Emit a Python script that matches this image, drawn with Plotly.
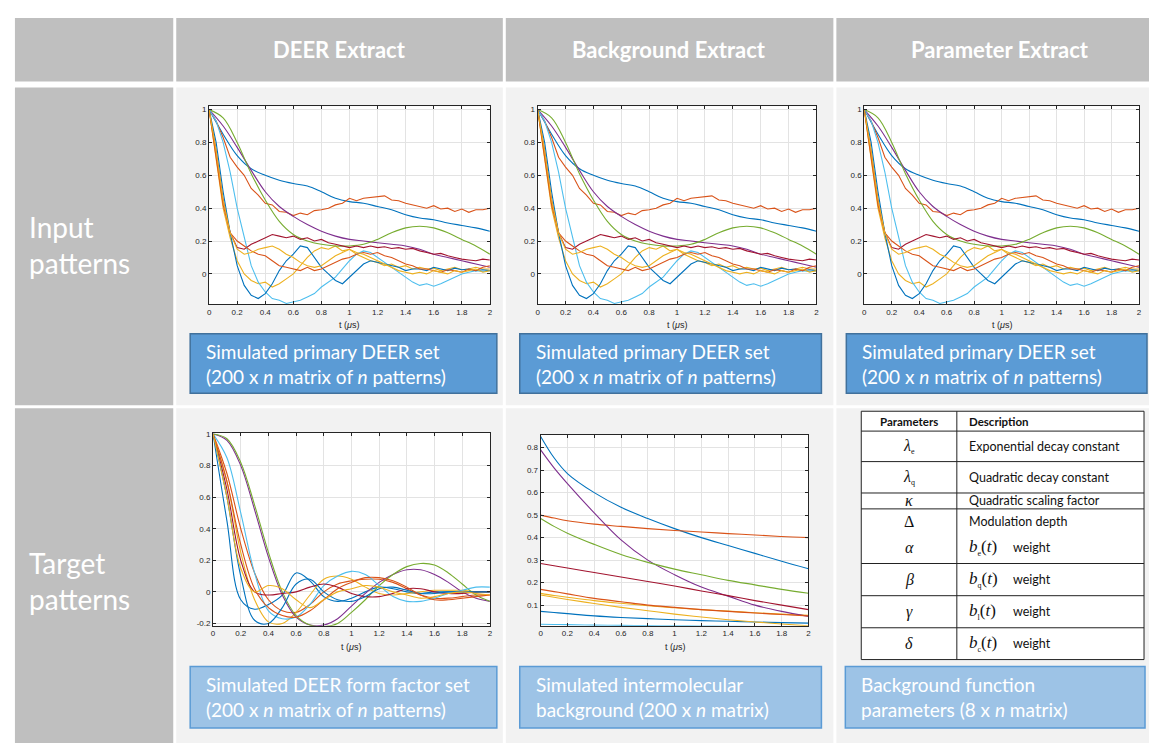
import numpy as np
import plotly.graph_objects as go

W, H = 1152, 745
FONT = "Lato"

# ---------------- data ----------------
t_smooth = [round(0.1 * i, 2) for i in range(21)]
t_noisy = [round(0.05 * i, 2) for i in range(41)]
x_ticks = [0, 0.2, 0.4, 0.6, 0.8, 1, 1.2, 1.4, 1.6, 1.8, 2]
x_tick_labels = ["0", "0.2", "0.4", "0.6", "0.8", "1", "1.2", "1.4", "1.6", "1.8", "2"]

# Input (primary DEER) patterns -- smooth ones on 0.1 grid
in_blue_smooth = [1.0, 0.85, 0.72, 0.64, 0.6, 0.57, 0.55, 0.535, 0.5, 0.46, 0.44, 0.43, 0.41, 0.39,
                  0.36, 0.34, 0.33, 0.31, 0.295, 0.28, 0.26]
in_purple = [1.0, 0.9, 0.77, 0.63, 0.5, 0.41, 0.35, 0.3, 0.26, 0.23, 0.21, 0.2, 0.19, 0.18, 0.17,
             0.15, 0.12, 0.1, 0.08, 0.06, 0.04]
in_green = [1.0, 0.95, 0.8, 0.61, 0.45, 0.32, 0.24, 0.2, 0.18, 0.17, 0.17, 0.18, 0.21, 0.25, 0.28,
            0.29, 0.28, 0.25, 0.21, 0.17, 0.12]
# noisy ones on 0.05 grid
in_orange_high = [1.0, 0.93, 0.83, 0.71, 0.65, 0.6, 0.52, 0.48, 0.43, 0.42, 0.38, 0.375, 0.355, 0.37,
                  0.36, 0.385, 0.39, 0.4, 0.42, 0.43, 0.46, 0.445, 0.46, 0.465, 0.47, 0.475, 0.45,
                  0.445, 0.43, 0.42, 0.41, 0.4, 0.415, 0.395, 0.4, 0.38, 0.395, 0.375, 0.39, 0.39, 0.4]
in_yellow_a = [1.0, 0.7, 0.4, 0.22, 0.08, 0.0, -0.04, -0.06, -0.05, -0.08, -0.06, -0.03, 0.0, 0.05,
               0.1, 0.14, 0.16, 0.15, 0.17, 0.14, 0.15, 0.12, 0.1, 0.08, 0.07, 0.05, 0.06, 0.04, 0.05,
               0.03, 0.04, 0.03, 0.035, 0.02, 0.03, 0.04, 0.025, 0.03, 0.04, 0.03, 0.03]
in_lightblue = [1.0, 0.93, 0.8, 0.62, 0.4, 0.22, 0.05, -0.05, -0.11, -0.15, -0.16, -0.18, -0.17,
                -0.16, -0.14, -0.12, -0.08, -0.05, -0.02, 0.03, 0.08, 0.12, 0.14, 0.13, 0.1, 0.07,
                0.04, 0.01, -0.02, -0.05, -0.07, -0.06, -0.075, -0.06, -0.04, -0.02, 0.0, 0.01, 0.02,
                0.015, 0.02]
in_darkred = [1.0, 0.75, 0.45, 0.25, 0.16, 0.15, 0.18, 0.2, 0.22, 0.24, 0.23, 0.22, 0.23, 0.21, 0.22,
              0.2, 0.21, 0.19, 0.18, 0.17, 0.16, 0.17, 0.16, 0.17, 0.16, 0.165, 0.155, 0.16, 0.15,
              0.155, 0.14, 0.13, 0.12, 0.125, 0.11, 0.1, 0.09, 0.085, 0.08, 0.09, 0.085]
in_blue_noisy = [1.0, 0.8, 0.5, 0.25, 0.05, -0.07, -0.13, -0.15, -0.12, -0.06, 0.02, 0.08, 0.12,
                 0.17, 0.16, 0.1, 0.04, 0.0, -0.04, -0.06, -0.02, 0.02, 0.06, 0.08, 0.07, 0.06, 0.05,
                 0.04, 0.02, 0.03, 0.03, 0.02, 0.04, 0.03, 0.02, 0.035, 0.025, 0.03, 0.02, 0.025, 0.02]
in_orange_low = [1.0, 0.72, 0.42, 0.25, 0.2, 0.17, 0.14, 0.12, 0.11, 0.08, 0.05, 0.04, 0.03, 0.02,
                 0.04, 0.02, 0.03, 0.05, 0.07, 0.09, 0.1, 0.12, 0.13, 0.12, 0.13, 0.11, 0.1, 0.08,
                 0.06, 0.05, 0.03, 0.03, 0.02, 0.01, 0.025, 0.02, 0.01, 0.03, 0.02, 0.04, 0.05]
in_yellow_b = [1.0, 0.75, 0.45, 0.25, 0.15, 0.12, 0.13, 0.15, 0.16, 0.17, 0.15, 0.12, 0.1, 0.07, 0.05,
               0.04, 0.05, 0.08, 0.11, 0.13, 0.15, 0.13, 0.12, 0.1, 0.08, 0.06, 0.04, 0.02, 0.01, 0.0,
               0.01, 0.0, 0.02, 0.01, 0.0, 0.02, 0.01, 0.02, 0.03, 0.01, 0.02]

# Target: DEER form factors (0.1 grid)
ff_blue_a = [1.0, 0.45, -0.05, -0.11, -0.08, -0.02, 0.12, 0.07, -0.03, -0.06, -0.04, 0.0, 0.03, 0.02,
             0.0, -0.01, 0.0, 0.0, 0.0, 0.0, 0.0]
ff_orange_a = [1.0, 0.75, 0.4, 0.12, -0.05, -0.12, -0.13, -0.08, 0.0, 0.05, 0.07, 0.08, 0.08, 0.06,
               0.02, -0.02, -0.04, -0.04, -0.03, -0.02, -0.02]
ff_yellow_a = [1.0, 0.7, 0.25, -0.05, -0.19, -0.2, -0.13, -0.02, 0.08, 0.1, 0.08, 0.03, -0.01, -0.02,
               -0.01, 0.0, 0.01, 0.01, 0.01, 0.0, 0.0]
ff_purple = [1.0, 0.96, 0.8, 0.52, 0.22, -0.02, -0.16, -0.21, -0.21, -0.17, -0.09, -0.01, 0.06, 0.11,
             0.14, 0.14, 0.11, 0.06, 0.0, -0.04, -0.06]
ff_green = [1.0, 0.97, 0.82, 0.55, 0.25, 0.0, -0.15, -0.21, -0.22, -0.2, -0.13, -0.05, 0.04, 0.11,
            0.16, 0.18, 0.17, 0.12, 0.05, -0.02, -0.06]
ff_lightblue = [1.0, 0.85, 0.5, 0.12, -0.12, -0.17, -0.16, -0.08, 0.04, 0.1, 0.13, 0.11, 0.04, -0.03,
                -0.06, -0.06, -0.04, -0.01, 0.01, 0.03, 0.03]
ff_darkred = [1.0, 0.65, 0.2, 0.0, -0.02, -0.01, 0.0, 0.03, 0.05, 0.03, -0.01, -0.03, -0.03, -0.01,
              0.02, 0.02, 0.0, -0.01, -0.01, 0.0, 0.0]
ff_blue_b = [1.0, 0.6, 0.1, -0.18, -0.2, -0.1, 0.05, 0.08, 0.0, -0.05, -0.06, -0.03, 0.02, 0.03, 0.01,
             -0.01, -0.01, 0.0, 0.0, 0.0, 0.0]
ff_orange_b = [1.0, 0.7, 0.3, 0.02, -0.1, -0.15, -0.16, -0.12, -0.05, 0.02, 0.06, 0.09, 0.09, 0.07,
               0.03, -0.02, -0.05, -0.05, -0.04, -0.03, -0.02]
ff_yellow_b = [1.0, 0.6, 0.15, 0.0, 0.04, 0.02, -0.05, -0.1, -0.05, 0.0, 0.02, 0.04, 0.03, 0.0, -0.02,
               -0.04, -0.03, -0.01, 0.0, -0.01, -0.02]

# Target: intermolecular backgrounds
t_bg = [0, 0.1, 0.2, 0.4, 0.6, 0.8, 1.0, 1.2, 1.4, 1.6, 1.8, 2.0]
bg_blue = [0.85, 0.755, 0.685, 0.6, 0.535, 0.485, 0.44, 0.4, 0.365, 0.33, 0.295, 0.262]
bg_orange = [0.5, 0.487, 0.475, 0.46, 0.45, 0.44, 0.432, 0.425, 0.418, 0.412, 0.405, 0.4]
bg_yellow_a = [0.152, 0.143, 0.135, 0.12, 0.108, 0.097, 0.088, 0.08, 0.073, 0.066, 0.06, 0.055]
bg_purple = [0.79, 0.71, 0.64, 0.51, 0.39, 0.3, 0.235, 0.18, 0.14, 0.1, 0.072, 0.05]
bg_green = [0.485, 0.45, 0.42, 0.37, 0.325, 0.29, 0.26, 0.235, 0.21, 0.19, 0.17, 0.153]
bg_lightblue = [0.015, 0.014, 0.013, 0.011, 0.01, 0.009, 0.008, 0.007, 0.006, 0.005, 0.005, 0.004]
bg_darkred = [0.285, 0.275, 0.265, 0.245, 0.225, 0.205, 0.185, 0.163, 0.142, 0.12, 0.1, 0.08]
bg_blue_b = [0.072, 0.067, 0.062, 0.052, 0.045, 0.04, 0.035, 0.031, 0.028, 0.025, 0.022, 0.02]
bg_orange_b = [0.17, 0.16, 0.15, 0.13, 0.115, 0.1, 0.09, 0.08, 0.072, 0.065, 0.058, 0.052]
bg_yellow_b = [0.145, 0.135, 0.125, 0.107, 0.09, 0.075, 0.06, 0.047, 0.035, 0.025, 0.016, 0.008]

# Text
col_headers = ["DEER Extract", "Background Extract", "Parameter Extract"]
row_labels = ["Input<br>patterns", "Target<br>patterns"]
input_caption = "Simulated primary DEER set<br>(200 x <i>n</i> matrix of <i>n</i> patterns)"
target_captions = ["Simulated DEER form factor set<br>(200 x <i>n</i> matrix of <i>n</i> patterns)",
                   "Simulated intermolecular<br>background (200 x <i>n</i> matrix)",
                   "Background function<br>parameters (8 x <i>n</i> matrix)"]
SUB = '<sub><span style="font-size:8px">{}</span></sub>'
param_symbols = ["<i>λ</i>" + SUB.format("e"), "<i>λ</i>" + SUB.format("q"), "<i>κ</i>", "Δ",
                 "<i>α</i>", "<i>β</i>", "<i>γ</i>", "<i>δ</i>"]
param_desc = ["Exponential decay constant", "Quadratic decay constant", "Quadratic scaling factor",
              "Modulation depth"]
weight_funcs = ["<i>b</i>" + SUB.format("e") + "(<i>t</i>)", "<i>b</i>" + SUB.format("q") + "(<i>t</i>)",
                "<i>b</i>" + SUB.format("l") + "(<i>t</i>)", "<i>b</i>" + SUB.format("c") + "(<i>t</i>)"]

C = ['#0072BD', '#D95319', '#EDB120', '#7E2F8E', '#77AC30', '#4DBEEE', '#A2142F']


def px(x):
    return x / W


def py(y):
    return 1 - y / H


fig = go.Figure()
shapes = []
ann = []

# ---------- table cells ----------
GRAY = "#BFBFBF"
LIGHT = "#F2F2F2"
cols = [(13, 172), (175, 503), (506, 835), (838, 1152)]
rows = [(15, 79), (85, 405), (408, 745)]
for ri, (y0, y1) in enumerate(rows):
    for ci, (x0, x1) in enumerate(cols):
        fill = GRAY if (ri == 0 or ci == 0) else LIGHT
        shapes.append(dict(type="rect", xref="paper", yref="paper", x0=px(x0), x1=px(x1),
                           y0=py(y1), y1=py(y0), fillcolor=fill, line_width=0, layer="below"))

hdr_centers = [339, 670, 1002]
for txt, cx in zip(col_headers, hdr_centers):
    ann.append(dict(x=px(cx), y=py(47), xref="paper", yref="paper", text="<b>" + txt + "</b>",
                    showarrow=False, font=dict(family=FONT, size=22, color="white"),
                    xanchor="center", yanchor="middle"))
for txt, cy in zip(row_labels, [244, 582]):
    ann.append(dict(x=px(25), y=py(cy), xref="paper", yref="paper", text=txt, showarrow=False,
                    align="left", font=dict(family=FONT, size=28, color="white"),
                    xanchor="left", yanchor="middle"))

# ---------- caption boxes ----------
def caption(x0, x1, y0, y1, text, fill, border):
    shapes.append(dict(type="rect", xref="paper", yref="paper", x0=px(x0), x1=px(x1),
                       y0=py(y1), y1=py(y0), fillcolor=fill, line=dict(color=border, width=1.5),
                       layer="below"))
    ann.append(dict(x=px(x0 + 14), y=py((y0 + y1) / 2), xref="paper", yref="paper", text=text,
                    showarrow=False, align="left", font=dict(family=FONT, size=19, color="white"),
                    xanchor="left", yanchor="middle"))


for (x0, x1) in [(189, 497), (520, 823), (848, 1150)]:
    caption(x0, x1, 333, 393, input_caption, "#5B9BD5", "#41719C")
for (x0, x1), txt in zip([(189, 497), (520, 823), (847, 1148)], target_captions):
    caption(x0, x1, 668, 730, txt, "#9DC3E6", "#5B9BD5")

# ---------- plots ----------
layout_axes = {}
AX = "#262626"


def add_axes(i, x0, x1, y0, y1, yr, yticks, yticklabels):
    xa = "xaxis" if i == 1 else f"xaxis{i}"
    ya = "yaxis" if i == 1 else f"yaxis{i}"
    # white plotting area (drawn above the grey cell, below grid and traces)
    shapes.append(dict(type="rect", xref="paper", yref="paper", x0=px(x0), x1=px(x1),
                       y0=py(y1), y1=py(y0), fillcolor="white", line_width=0, layer="below"))
    common = dict(showline=True, linecolor=AX, linewidth=1, mirror="ticks", ticks="inside",
                  ticklen=3, tickcolor=AX, showgrid=True, gridcolor="#E3E3E3", gridwidth=1,
                  zeroline=False, tickfont=dict(family="Liberation Sans", size=8, color=AX))
    layout_axes[xa] = dict(domain=[px(x0), px(x1)], range=[0, 2], tickvals=x_ticks,
                           ticktext=x_tick_labels, anchor=f"y{i if i > 1 else ''}", **common)
    layout_axes[ya] = dict(domain=[py(y1), py(y0)], range=yr, tickvals=yticks,
                           ticktext=yticklabels, anchor=f"x{i if i > 1 else ''}", **common)
    ann.append(dict(x=px((x0 + x1) / 2), y=py(y1 + 21), xref="paper", yref="paper",
                    text="t (<i>μ</i>s)", showarrow=False,
                    font=dict(family="Liberation Sans", size=9, color=AX),
                    xanchor="center", yanchor="middle"))


def add_line(i, x, y, color, spline=False):
    fig.add_trace(go.Scatter(x=x, y=y, mode="lines", xaxis=f"x{i if i > 1 else ''}",
                             yaxis=f"y{i if i > 1 else ''}", showlegend=False, hoverinfo="skip",
                             line=dict(color=color, width=1.1,
                                       shape="spline" if spline else "linear")))


in_yt = [0, 0.2, 0.4, 0.6, 0.8, 1]
in_ytl = ["0", "0.2", "0.4", "0.6", "0.8", "1"]
input_boxes = [(208, 490), (538, 818), (866, 1142)]
for k, (x0, x1) in enumerate(input_boxes):
    i = k + 1
    add_axes(i, x0, x1, 104, 303, [-0.183, 1.02], in_yt, in_ytl)
    add_line(i, t_smooth, in_blue_smooth, C[0], True)
    add_line(i, t_noisy, in_orange_high, C[1])
    add_line(i, t_noisy, in_yellow_a, C[2])
    add_line(i, t_smooth, in_purple, C[3], True)
    add_line(i, t_smooth, in_green, C[4], True)
    add_line(i, t_noisy, in_lightblue, C[5])
    add_line(i, t_noisy, in_darkred, C[6])
    add_line(i, t_noisy, in_blue_noisy, C[0])
    add_line(i, t_noisy, in_orange_low, C[1])
    add_line(i, t_noisy, in_yellow_b, C[2])

# form factors
add_axes(4, 212, 490, 433, 627, [-0.215, 1.006], [-0.2, 0, 0.2, 0.4, 0.6, 0.8, 1],
         ["-0.2", "0", "0.2", "0.4", "0.6", "0.8", "1"])
for y, c in zip([ff_blue_a, ff_orange_a, ff_yellow_a, ff_purple, ff_green, ff_lightblue, ff_darkred,
                 ff_blue_b, ff_orange_b, ff_yellow_b], C + C[:3]):
    add_line(4, t_smooth, y, c, True)

# backgrounds
add_axes(5, 541, 810, 435, 627, [0.008, 0.856], [0.1, 0.2, 0.3, 0.4, 0.5, 0.6, 0.7, 0.8],
         ["0.1", "0.2", "0.3", "0.4", "0.5", "0.6", "0.7", "0.8"])
for y, c in zip([bg_blue, bg_orange, bg_yellow_a, bg_purple, bg_green, bg_lightblue, bg_darkred,
                 bg_blue_b, bg_orange_b, bg_yellow_b], C + C[:3]):
    add_line(5, t_bg, y, c, True)

# ---------- parameter table ----------
TX0, TX1, TXD = 863, 1147, 959
row_lines = [411, 431, 461.7, 493.3, 509.3, 564.3, 596.7, 629, 661]
shapes.append(dict(type="rect", xref="paper", yref="paper", x0=px(TX0), x1=px(TX1),
                   y0=py(661), y1=py(411), fillcolor="white", line=dict(color="#222", width=1)))
for yl in row_lines[1:-1]:
    shapes.append(dict(type="line", xref="paper", yref="paper", x0=px(TX0), x1=px(TX1),
                       y0=py(yl), y1=py(yl), line=dict(color="#222", width=1)))
shapes.append(dict(type="line", xref="paper", yref="paper", x0=px(TXD), x1=px(TXD),
                   y0=py(661), y1=py(411), line=dict(color="#222", width=1)))

ann.append(dict(x=px(911), y=py(421), xref="paper", yref="paper", text="<b>Parameters</b>",
                showarrow=False, font=dict(family=FONT, size=11.5, color="#111"),
                xanchor="center", yanchor="middle"))
ann.append(dict(x=px(969), y=py(421), xref="paper", yref="paper", text="<b>Description</b>",
                showarrow=False, font=dict(family=FONT, size=11.5, color="#111"),
                xanchor="left", yanchor="middle"))
sym_y = [446, 477.5, 501.3, 521.7, 548.3, 580.5, 612.8, 645]
for s, yv in zip(param_symbols, sym_y):
    ann.append(dict(x=px(911), y=py(yv), xref="paper", yref="paper", text=s, showarrow=False,
                    font=dict(family="Liberation Serif", size=16, color="#111"),
                    xanchor="center", yanchor="middle"))
for d, yv in zip(param_desc, sym_y[:4]):
    ann.append(dict(x=px(969), y=py(yv), xref="paper", yref="paper", text=d, showarrow=False,
                    font=dict(family=FONT, size=12.5, color="#111"),
                    xanchor="left", yanchor="middle"))
for b, yv in zip(weight_funcs, sym_y[4:]):
    ann.append(dict(x=px(969), y=py(yv), xref="paper", yref="paper", text=b, showarrow=False,
                    font=dict(family="Liberation Serif", size=17, color="#111"),
                    xanchor="left", yanchor="middle"))
    ann.append(dict(x=px(1013), y=py(yv), xref="paper", yref="paper", text="weight",
                    showarrow=False, font=dict(family=FONT, size=12.5, color="#111"),
                    xanchor="left", yanchor="middle"))

fig.update_layout(width=W, height=H, margin=dict(l=0, r=0, t=0, b=0), autosize=False,
                  paper_bgcolor="white", plot_bgcolor="white", shapes=shapes, annotations=ann,
                  showlegend=False, **layout_axes)
fig.write_html("out.html", config={"displayModeBar": False})
